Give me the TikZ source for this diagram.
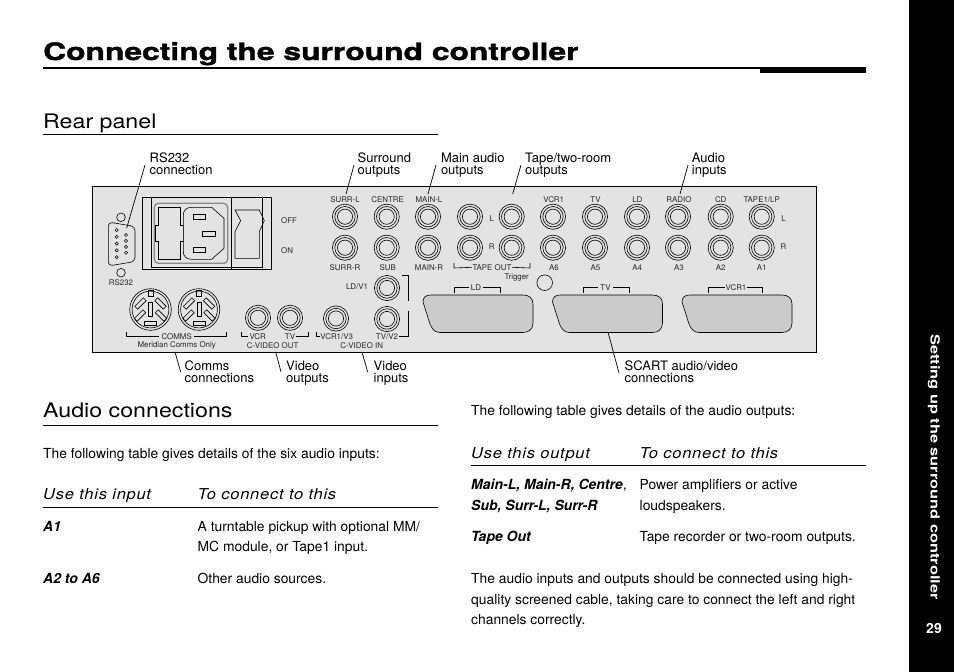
\documentclass[tikz,border=0pt]{standalone}
\usepackage{fontspec}
\setmainfont{TeX Gyre Heros}
\newfontfamily\titlefont[FakeStretch=1.325,FakeBold=1.6]{TeX Gyre Heros Bold}
\newfontfamily\sidefont[FakeStretch=1.3]{TeX Gyre Heros Bold}
\newfontfamily\headfont[FakeStretch=1.16]{TeX Gyre Heros}
\newfontfamily\tablefont[FakeStretch=1.1,LetterSpace=5]{TeX Gyre Heros Italic}
\definecolor{panelgrey}{HTML}{E3E3E3}
\definecolor{scartgrey}{HTML}{CBCBCB}
\definecolor{ringgrey}{HTML}{8A8A8A}
\tikzset{
  txt/.style={anchor=base west,inner sep=0pt,font=\fontsize{13.85}{15}\selectfont},
  callout/.style={anchor=base west,inner sep=0pt,font=\fontsize{13}{12}\selectfont,align=left},
  small/.style={anchor=center,inner sep=0pt,font=\fontsize{7.9}{8}\selectfont,text=black!85},
  heading/.style={anchor=base west,inner sep=0pt,font=\headfont\fontsize{20}{22}\selectfont},
  tablehead/.style={anchor=base west,inner sep=0pt,font=\tablefont\fontsize{15}{18}\selectfont},
  strong/.style={anchor=base west,inner sep=0pt,font=\fontsize{14}{15}\selectfont\bfseries\itshape},
  rulethin/.style={line width=0.9pt},
  leader/.style={line width=0.7pt},
  part/.style={line width=0.6pt},
  brack/.style={line width=0.6pt},
}
\newcommand\jackat[2]{%
  \draw[part] (#1,#2) circle (12.6) circle (10.2) circle (7.6);}
\newcommand\scartat[2]{%
  \begin{scope}[shift={(#1,#2)}]
  \draw[part,fill=scartgrey] (0,7) .. controls (0,2) and (3,0) .. (8,0) -- (100,0)
    .. controls (106,0) and (110,3) .. (110,9) -- (110,28)
    .. controls (110,34) and (106,37.5) .. (100,37.5) -- (17,37.5)
    .. controls (12,37.5) and (9,34) .. (7,29) -- cycle;
  \end{scope}}
\newcommand\dinat[2]{%
  \begin{scope}[shift={(#1,#2)}]
  \draw[part] (0,0) circle (20.8) circle (18.4);
  \draw[part] (-2.5,-19) rectangle (2.5,-13.5);
  \draw[part] (-2.2,-7) rectangle (2.2,7);
  \draw[part] (-6,12) rectangle (6,15.5);
  \foreach \px/\py/\ang in {-10/-6/45,-10.5/6/45,10/-6/-45,10.5/6/-45}{
    \draw[part,rotate around={\ang:(\px,\py)}] (\px-6,\py-2) rectangle (\px+6,\py+2);}
  \end{scope}}
\begin{document}
\begin{tikzpicture}[x=1pt,y=-1pt]
\useasboundingbox (0,0) rectangle (954,672);
% page furniture
\fill (909,0) rectangle (954,672);
\fill (43,66.8) rectangle (866,68.6);
\fill (760,66.5) rectangle (866,73);
\node[anchor=base west,inner sep=0pt,font=\titlefont\fontsize{24}{28}\selectfont] (title) at (43,60) {Connecting the surround controller};
\node[heading] (rear) at (43,128.5) {Rear panel};
\draw[rulethin] (43,134.2) -- (438,134.2);
\node[heading] (audio) at (43,417) {Audio connections};
\draw[rulethin] (43,425.7) -- (438,425.7);
\node[rotate=-90,text=white,inner sep=0pt,font=\sidefont\fontsize{12.6}{14}\selectfont] (side) at (934,467) {Setting up the surround controller};
\node[text=white,inner sep=0pt,font=\bfseries\fontsize{14}{15}\selectfont] (pnum) at (934,628) {29};
% panel
\draw[line width=0.9pt,fill=panelgrey] (92.5,186) rectangle (816.7,352);
% power box
\draw[line width=0.8pt] (142.3,197.3) rectangle (271.7,269.3);
\draw[line width=0.8pt] (151,197.3) rectangle (262.3,267.3);
\draw[line width=0.8pt] (231.7,197.3) -- (231.7,269.3);
\begin{scope}[shift={(100,190)},x=0.3333pt,y=-0.3333pt]
  \draw[line width=1.3pt,ringgrey,rounded corners=4pt] (163,40) rectangle (383,220);
  \draw[part] (175,52) -- (240,52) -- (240,105) -- (250,105) -- (250,153) -- (240,153) -- (240,208) -- (175,208) -- (175,153) -- (165,153) -- (165,105) -- (175,105) -- cycle;
  \draw[part,fill=panelgrey] (275,52) -- (335,52) -- (372,85) -- (372,175) -- (335,208) -- (275,208) .. controls (258,208) and (250,198) .. (250,185) -- (250,75) .. controls (250,62) and (258,52) .. (275,52) -- cycle;
  \draw[part] (280,73) rectangle (315,88);
  \draw[part] (307,123) rectangle (345,138);
  \draw[part] (280,172) rectangle (315,187);
  \draw[part] (405,60) -- (478,60) -- (493,92) -- (478,125) -- (478,205) -- (405,205) -- (405,125) -- (422,92) -- cycle;
\end{scope}
\node[small,anchor=west] (off) at (281,221) {OFF};
\node[small,anchor=west] (on) at (281,250.7) {ON};
% RS232
\draw[part] (121,217.3) circle (4.3);
\draw[part] (121,272.7) circle (4.3);
\draw[part,rounded corners=4pt] (108.3,222) -- (135,226.5) -- (135,261.5) -- (108.3,266) -- cycle;
\foreach \i in {0,1,2,3,4}{\draw[line width=0.5pt] (116.7,230+6.8*\i) circle (1.6);}
\foreach \i in {0,1,2,3}{\draw[line width=0.5pt] (126,235+5.9*\i) circle (1.6);}
\node[small] (rs) at (121,283) {RS232};
% jacks
\foreach \x in {345,386.7,428,470,511.7,553,595,637,678,720.7,761.7}{\jackat{\x}{216.7}\jackat{\x}{247.7}}
\jackat{387}{288}
\jackat{387}{319}
\jackat{336}{318.5}
\jackat{258}{317.8}
\jackat{290}{317.8}
% top labels
\node[small] (l1) at (345,200) {SURR-L};
\node[small] (l2) at (387.7,200) {CENTRE};
\node[small] (l3) at (429,200) {MAIN-L};
\node[small] (l4) at (553.7,200) {VCR1};
\node[small] (l5) at (595.5,200) {TV};
\node[small] (l6) at (637.3,200) {LD};
\node[small] (l7) at (679,200) {RADIO};
\node[small] (l8) at (720.7,200) {CD};
\node[small] (l9) at (761.7,200) {TAPE1/LP};
\node[small] (b1) at (345,267.3) {SURR-R};
\node[small] (b2) at (387.7,267.3) {SUB};
\node[small] (b3) at (429,267.3) {MAIN-R};
\node[small] (b4) at (554,267.3) {A6};
\node[small] (b5) at (595.5,267.3) {A5};
\node[small] (b6) at (637.3,267.3) {A4};
\node[small] (b7) at (679,267.3) {A3};
\node[small] (b8) at (720.7,267.3) {A2};
\node[small] (b9) at (761.7,267.3) {A1};
\node[small] (tl) at (491.7,219) {L};
\node[small] (tr) at (491.7,247) {R};
\node[small] (il) at (783.5,219) {L};
\node[small] (ir) at (783.5,247) {R};
\node[small] (ld1) at (357,287) {LD/V1};
\node[small] (trig) at (516.7,277) {Trigger};
\draw[part] (544.7,282.7) circle (7.8);
% tape out bracket
\node[small,fill=panelgrey,inner xsep=0.5pt] (tape) at (492,267.3) {TAPE OUT};
\draw[brack] (454,263) -- (454,268) -- (tape.west);
\draw[brack] (530,263) -- (530,268) -- (tape.east);
% scart
\scartat{423}{295}
\scartat{552.5}{295}
\scartat{682}{295}
\node[small,fill=panelgrey,inner xsep=2pt] (sld) at (476,287.7) {LD};
\draw[brack] (454,293) -- (454,287.7) -- (sld.west);
\draw[brack] (500,293) -- (500,287.7) -- (sld.east);
\node[small,fill=panelgrey,inner xsep=2pt] (stv) at (605.5,287.7) {TV};
\draw[brack] (583.3,293) -- (583.3,287.7) -- (stv.west);
\draw[brack] (629.3,293) -- (629.3,287.7) -- (stv.east);
\node[small,fill=panelgrey,inner xsep=0.5pt] (svc) at (736,287.7) {VCR1};
\draw[brack] (708.5,293) -- (708.5,287.7) -- (svc.west);
\draw[brack] (762,293) -- (762,287.7) -- (svc.east);
% din
\dinat{150.5}{309.5}
\dinat{199}{309.5}
\node[small,fill=panelgrey,inner xsep=2pt] (comms) at (176.7,336.5) {COMMS};
\draw[brack] (126,332) -- (126,336.5) -- (comms.west);
\draw[brack] (226.7,332) -- (226.7,336.5) -- (comms.east);
\node[small] (mer) at (176.7,345.9) {Meridian Comms Only};
\node[small] (vcr) at (257.7,336.5) {VCR};
\node[small] (tvo) at (290,336.5) {TV};
\draw[brack] (241.7,332) -- (241.7,336.5) -- ([xshift=-1pt]vcr.west);
\draw[brack] (308,332) -- (308,336.5) -- ([xshift=1pt]tvo.east);
\node[small] (cout) at (272.7,345.9) {C-VIDEO OUT};
\node[small] (v13) at (336.7,336.5) {VCR1/V3};
\draw[brack] (316.7,332) -- (316.7,336.5) -- (v13.west);
\node[small] (tv2) at (387,336.5) {TV/V2};
\node[small] (cin) at (361.7,345.9) {C-VIDEO IN};
\draw[brack] (402,275) -- (408,275) -- (408,300.7);
\draw[brack] (408,310.7) -- (408,336.5) -- ([xshift=1pt]tv2.east);
% callouts
\node[callout] (c1) at (149.5,174) {RS232\\connection};
\node[callout] (c2) at (357.5,174) {Surround\\outputs};
\node[callout] (c3) at (440.8,174) {Main audio\\outputs};
\node[callout] (c4) at (525,174) {Tape/two-room\\outputs};
\node[callout] (c5) at (691.7,174) {Audio\\inputs};
\node[callout] (c6) at (184.5,382) {Comms\\connections};
\node[callout] (c7) at (286,382) {Video\\outputs};
\node[callout] (c8) at (373.5,382) {Video\\inputs};
\node[callout] (c9) at (624.5,382) {SCART audio/video\\connections};
% leaders
\coordinate (a1) at (145,165); \coordinate (a2) at (126.7,228);
\coordinate (a3) at (354,165); \coordinate (a4) at (346,194);
\coordinate (a5) at (436,165); \coordinate (a6) at (428,194);
\coordinate (a7) at (521,165); \coordinate (a8) at (512.7,194);
\coordinate (a9) at (688,165); \coordinate (a10) at (680,194);
\coordinate (a11) at (175,352); \coordinate (a12) at (180.7,372);
\coordinate (a13) at (275.7,352); \coordinate (a14) at (281,372);
\coordinate (a15) at (362,352); \coordinate (a16) at (367.7,372);
\coordinate (a17) at (608,332); \coordinate (a18) at (619,373);
\draw[leader] (a1) -- (a2);
\draw[leader] (a3) -- (a4);
\draw[leader] (a5) -- (a6);
\draw[leader] (a7) -- (a8);
\draw[leader] (a9) -- (a10);
\draw[leader] (a11) -- (a12);
\draw[leader] (a13) -- (a14);
\draw[leader] (a15) -- (a16);
\draw[leader] (a17) -- (a18);
% left column
\node[txt] (t1) at (43,458.5) {The following table gives details of the six audio inputs:};
\node[tablehead] (t2) at (43,499) {Use this input};
\node[tablehead] (t3) at (197.5,499) {To connect to this};
\draw[rulethin] (43,507.5) -- (438,507.5);
\node[strong] (t4) at (43,531) {A1};
\node[txt] (t5) at (197.5,531) {A turntable pickup with optional MM/};
\node[txt] (t6) at (197.5,551.5) {MC module, or Tape1 input.};
\node[strong] (t7) at (43,583) {A2 to A6};
\node[txt] (t8) at (197.5,583) {Other audio sources.};
% right column
\node[txt] (r1) at (471,415.5) {The following table gives details of the audio outputs:};
\node[tablehead] (r2) at (471,458) {Use this output};
\node[tablehead] (r3) at (639.5,458) {To connect to this};
\draw[rulethin] (471,465.5) -- (866,465.5);
\node[strong] (r4) at (471,489) {Main-L, Main-R, Centre{\mdseries\upshape ,}};
\node[strong] (r5) at (471,510) {Sub, Surr-L, Surr-R};
\node[txt] (r6) at (639.5,489) {Power amplifiers or active};
\node[txt] (r7) at (639.5,510) {loudspeakers.};
\node[strong] (r8) at (471,541) {Tape Out};
\node[txt] (r9) at (639.5,541) {Tape recorder or two-room outputs.};
\node[txt] (r10) at (471,583) {The audio inputs and outputs should be connected using high-};
\node[txt] (r11) at (471,604) {quality screened cable, taking care to connect the left and right};
\node[txt] (r12) at (471,624) {channels correctly.};
\end{tikzpicture}
\end{document}
